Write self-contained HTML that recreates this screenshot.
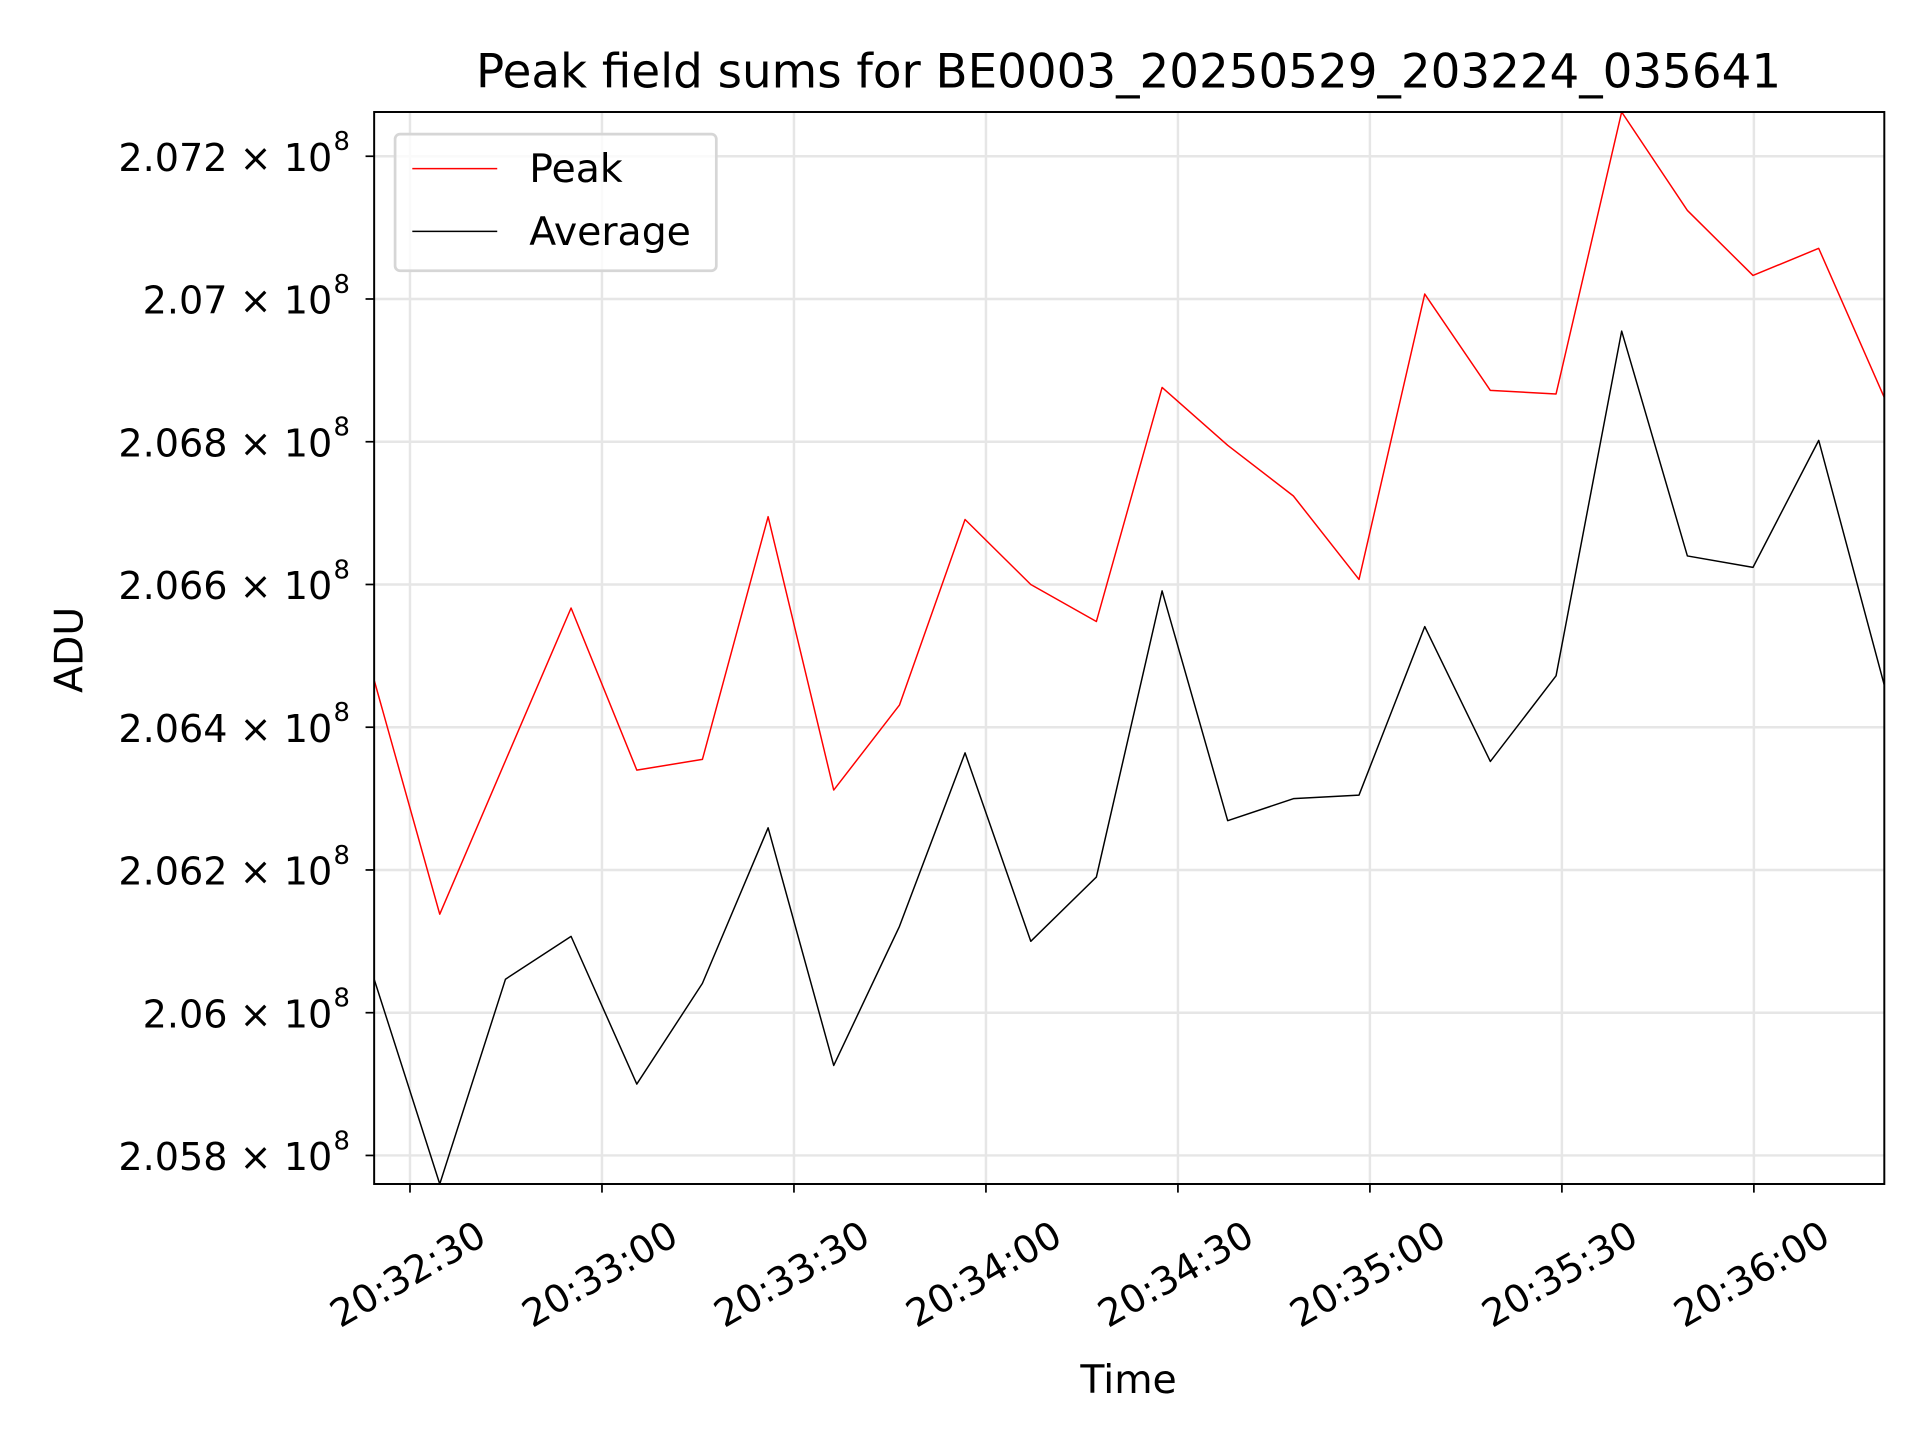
<!DOCTYPE html>
<html><head><meta charset="utf-8"><style>
html,body{margin:0;padding:0;background:#fff;}
svg{display:block;font-family:"DejaVu Sans","Liberation Sans",sans-serif;}
</style></head><body>
<svg id="chart" width="1920" height="1440" viewBox="0 0 1560 1170" xmlns="http://www.w3.org/2000/svg">
<rect width="1560" height="1170" fill="#fff"/>
<g id="grid"></g>
<g id="series"></g>
<rect x="304" y="91" width="1227" height="871" fill="none" stroke="#000" stroke-width="1.6"/>
<g id="ticks"></g>
<text x="917" y="71" style="font-size:38px" text-anchor="middle">Peak field sums for BE0003_20250529_203224_035641</text>
<text x="917" y="1132" style="font-size:32px" text-anchor="middle">Time</text>
<text transform="translate(67,528) rotate(-90)" style="font-size:32px" text-anchor="middle">ADU</text>
<g>
<rect x="321" y="109" width="261" height="111" rx="4" fill="#fff" fill-opacity="0.8" stroke="#d6d6d6" stroke-width="2.2"/>
<line x1="335" y1="137" x2="404" y2="137" stroke="red" stroke-width="1.2"/>
<text x="430" y="148" style="font-size:32px">Peak</text>
<line x1="335" y1="188" x2="404" y2="188" stroke="#000" stroke-width="1.2"/>
<text x="430" y="199" style="font-size:32px">Average</text>
</g>
</svg>
<script>
const peakValues=[2.06466,2.06138,2.06353,2.06567,2.06340,2.06355,2.06695,2.06312,2.06431,2.06691,2.06600,2.06548,2.06876,2.06795,2.06724,2.06607,2.07007,2.06872,2.06867,2.07262,2.07124,2.07033,2.07071,2.06862];
const averageValues=[2.06047,2.05760,2.06047,2.06107,2.05900,2.06041,2.06259,2.05926,2.06121,2.06364,2.06100,2.06190,2.06591,2.06269,2.06300,2.06305,2.06541,2.06352,2.06472,2.06955,2.06640,2.06624,2.06802,2.06459];
const startSeconds=-5.6; // relative to 20:32:30
const stepSeconds=10.26;
const yTickValues=[2.058,2.060,2.062,2.064,2.066,2.068,2.070,2.072];
const yTickLabels=["2.058","2.06","2.062","2.064","2.066","2.068","2.07","2.072"];
const xTickSeconds=[0,30,60,90,120,150,180,210];
const xTickLabels=["20:32:30","20:33:00","20:33:30","20:34:00","20:34:30","20:35:00","20:35:30","20:36:00"];
const L=304,R=1531,T=91,B=962;
const yMin=2.0576,yMax=2.07262;
const tMin=startSeconds,tMax=startSeconds+stepSeconds*(peakValues.length-1);
const xs=t=>L+(t-tMin)/(tMax-tMin)*(R-L);
const ys=v=>B-(v-yMin)/(yMax-yMin)*(B-T);
const NS="http://www.w3.org/2000/svg";
const mk=(tag,attrs,parent)=>{const e=document.createElementNS(NS,tag);for(const k in attrs)e.setAttribute(k,attrs[k]);parent.appendChild(e);return e;};
const grid=document.getElementById('grid'),ticks=document.getElementById('ticks'),series=document.getElementById('series');
yTickValues.forEach((v,i)=>{
 const y=ys(v);
 const g=mk('line',{x1:L,x2:R,y1:y,y2:y,stroke:'#e6e6e6','stroke-width':2},grid);
 
 
 const tk=mk('line',{x1:L-7,x2:L,y1:y,y2:y,stroke:'#000','stroke-width':1.4},ticks);
 
 
 const tx=mk('text',{x:L-34,y:y+12,style:'font-size:31px','text-anchor':'end'},ticks);
 
 
 tx.textContent=yTickLabels[i]+' \u00d7 10';
 const sp=mk('text',{x:L-33,y:y-5,style:'font-size:21px','text-anchor':'start'},ticks);
 
 
 sp.textContent='8';
});
xTickSeconds.forEach((s,i)=>{
 const x=xs(s);
 const g=mk('line',{x1:x,x2:x,y1:T,y2:B,stroke:'#e6e6e6','stroke-width':2},grid);
 
 
 const tk=mk('line',{x1:x,x2:x,y1:B,y2:B+7,stroke:'#000','stroke-width':1.4},ticks);
 
 
 const tx=mk('text',{x:0,y:11,style:'font-size:31px','text-anchor':'middle',transform:`translate(${x-2},${B+73}) rotate(-30)`},ticks);
 
 
 tx.textContent=xTickLabels[i];
});
const pts=arr=>arr.map((v,i)=>xs(startSeconds+i*stepSeconds).toFixed(1)+','+ys(v).toFixed(1)).join(' ');
const p=mk('polyline',{points:pts(peakValues),fill:'none',stroke:'red','stroke-width':1.2,'stroke-linejoin':'round'},series);


const a=mk('polyline',{points:pts(averageValues),fill:'none',stroke:'#000','stroke-width':1.2,'stroke-linejoin':'round'},series);


</script>
</body></html>
